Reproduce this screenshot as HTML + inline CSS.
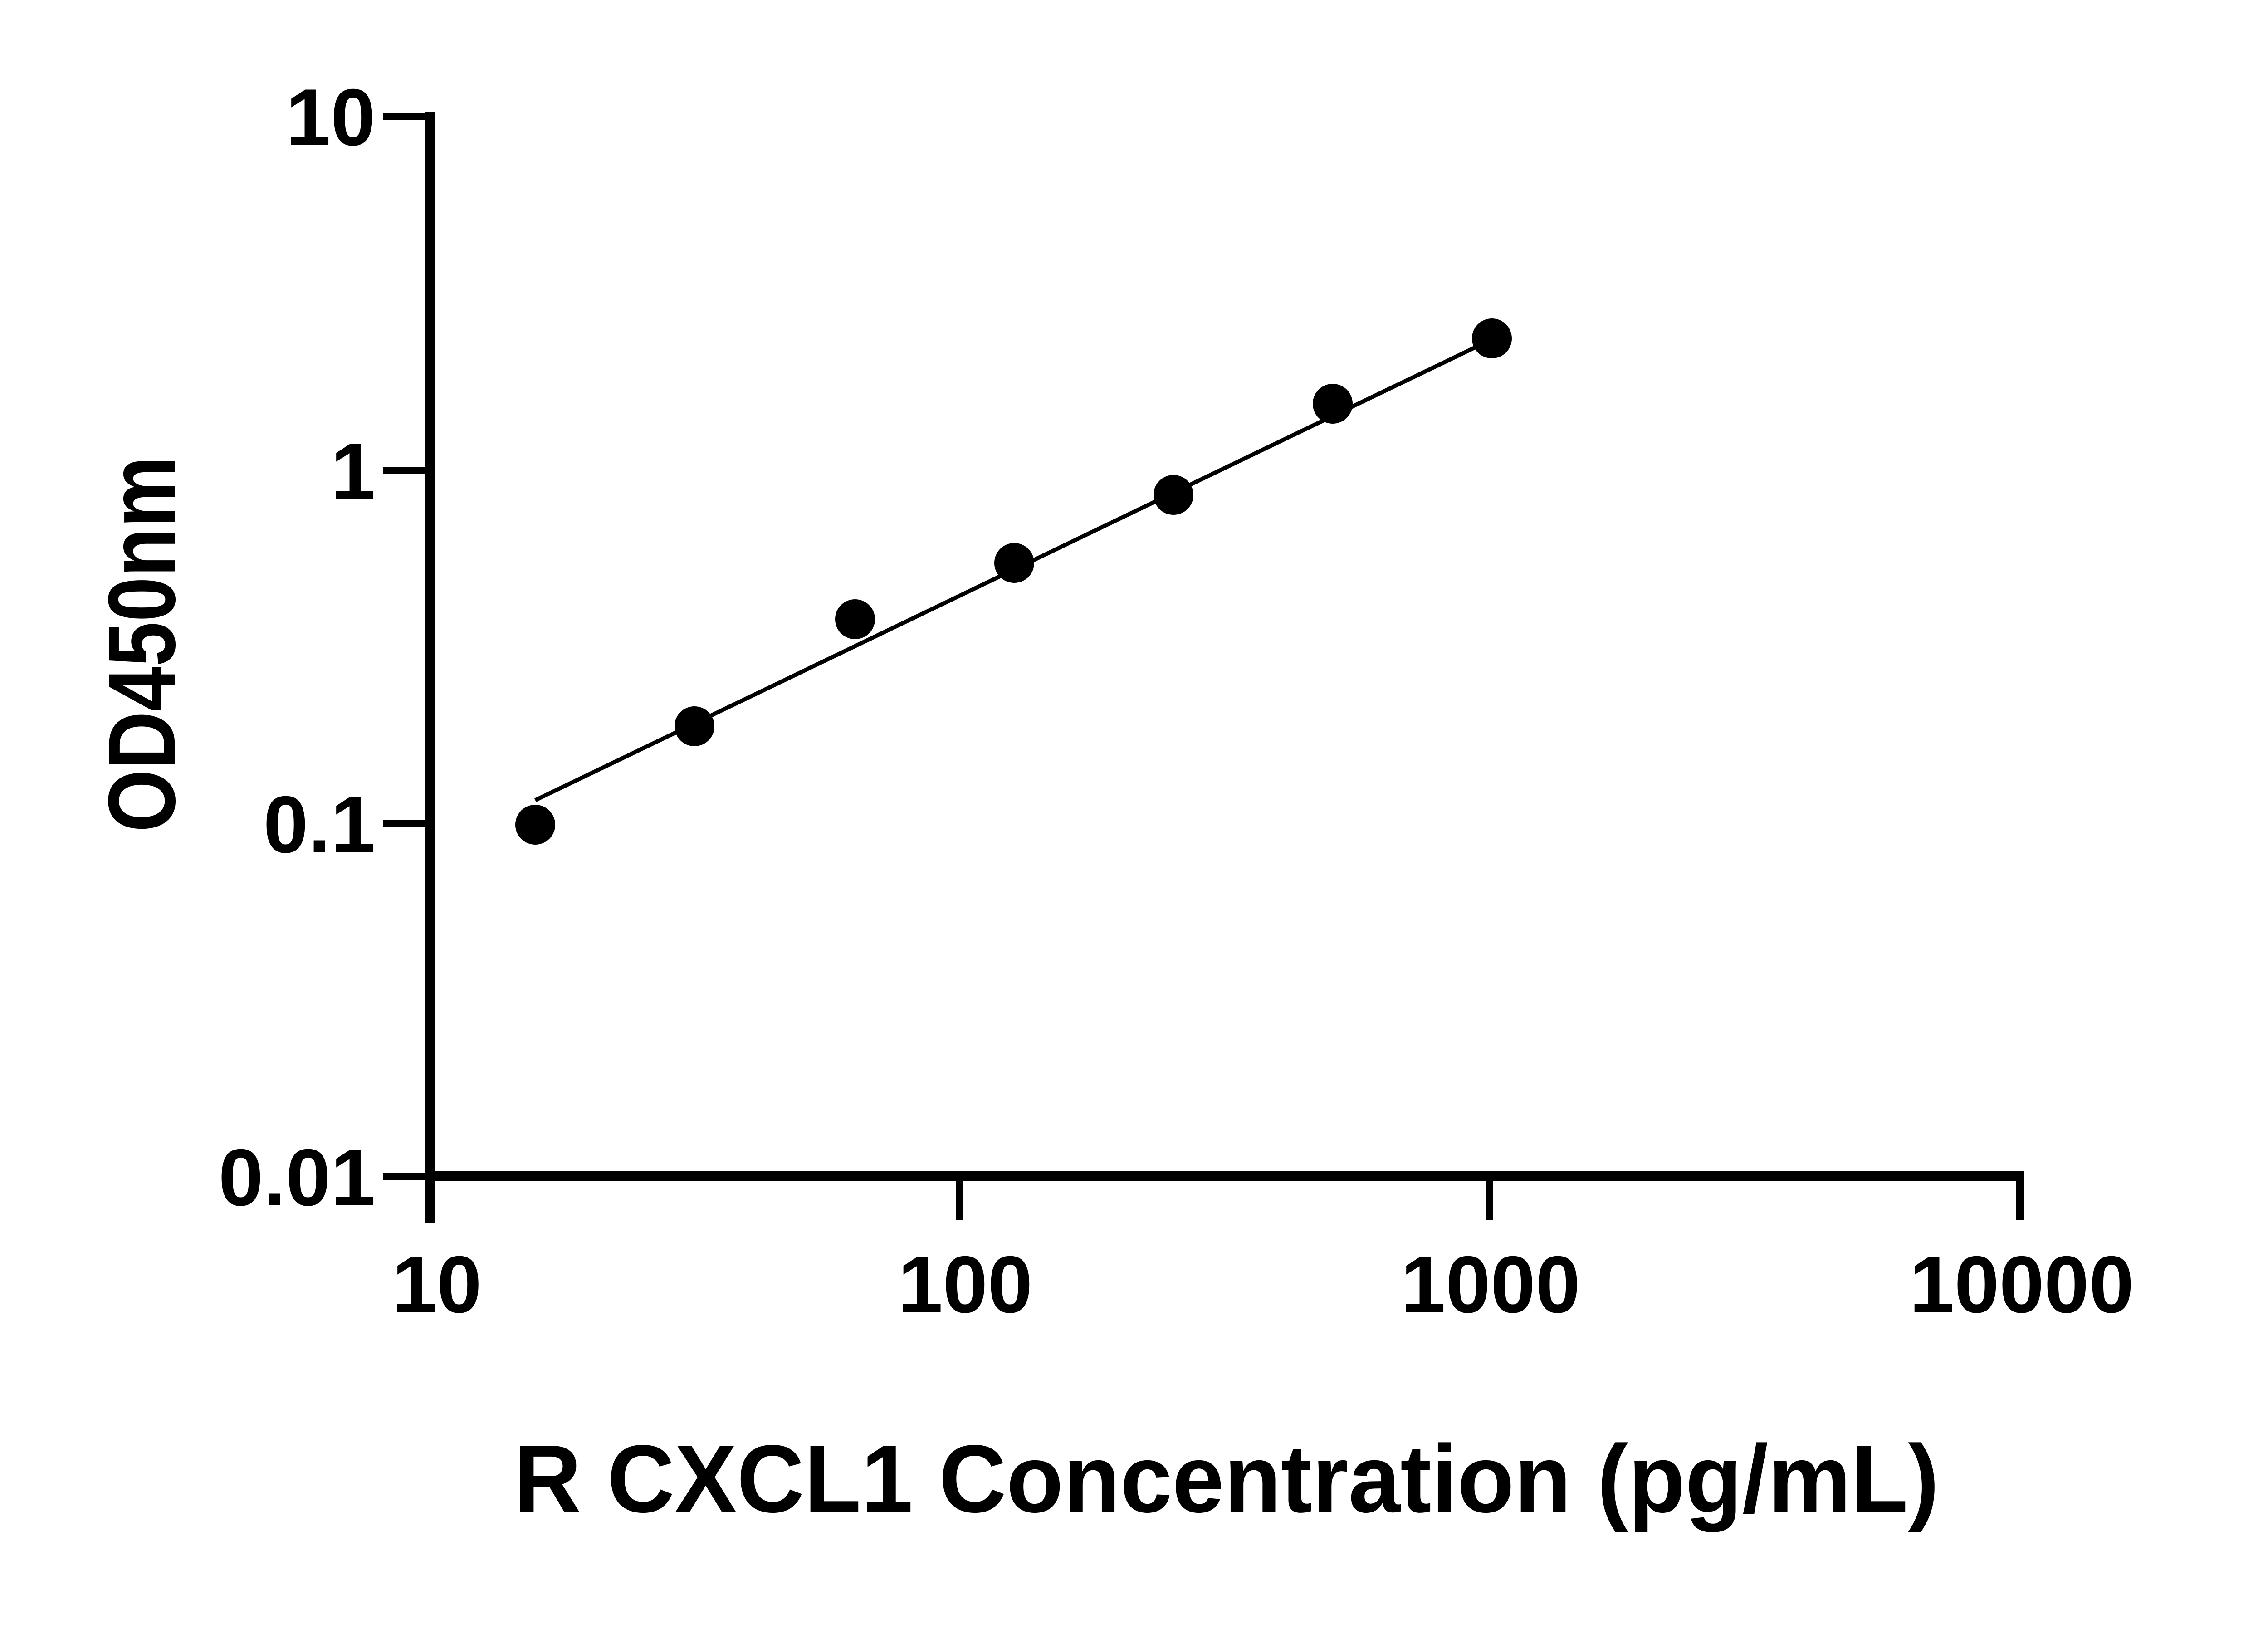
<!DOCTYPE html>
<html><head><meta charset="utf-8"><style>html,body{margin:0;padding:0;background:#fff}svg{display:block}</style></head>
<body>
<svg width="5138" height="3591" viewBox="0 0 5138 3591" xmlns="http://www.w3.org/2000/svg">
<rect width="5138" height="3591" fill="#fff"/>
<g stroke="#000" fill="none">
<line x1="947" y1="246" x2="947" y2="2696" stroke-width="22"/>
<line x1="936" y1="2593" x2="4462" y2="2593" stroke-width="22"/>
<g stroke-width="16">
<line x1="845" y1="256" x2="947" y2="256"/>
<line x1="845" y1="1037" x2="947" y2="1037"/>
<line x1="845" y1="1815" x2="947" y2="1815"/>
<line x1="845" y1="2593" x2="947" y2="2593"/>
<line x1="2115" y1="2593" x2="2115" y2="2690"/>
<line x1="3283" y1="2593" x2="3283" y2="2690"/>
<line x1="4453" y1="2593" x2="4453" y2="2690"/>
</g>
<line x1="1180" y1="1764" x2="3260" y2="762" stroke-width="9"/>
</g>
<g fill="#000">
<circle cx="1180" cy="1818" r="44"/>
<circle cx="1531" cy="1601" r="44"/>
<circle cx="1885" cy="1365" r="44"/>
<circle cx="2236" cy="1241" r="44"/>
<circle cx="2587" cy="1091" r="44"/>
<circle cx="2938" cy="890" r="44"/>
<circle cx="3289" cy="746" r="44"/>
</g>
<g font-family="Liberation Sans, Arial, sans-serif" font-weight="bold" font-size="178" fill="#000">
<g text-anchor="end">
<text x="828" y="320">10</text>
<text x="828" y="1101">1</text>
<text x="828" y="1879">0.1</text>
<text x="828" y="2657">0.01</text>
</g>
<g text-anchor="middle">
<text x="963" y="2893">10</text>
<text x="2128" y="2893">100</text>
<text x="3286" y="2893">1000</text>
<text x="4457" y="2893">10000</text>
</g>
</g>
<text x="2704" y="3333" text-anchor="middle" font-family="Liberation Sans, Arial, sans-serif" font-weight="bold" font-size="212" textLength="3142" lengthAdjust="spacingAndGlyphs">R CXCL1 Concentration (pg/mL)</text>
<text transform="translate(385,1420) rotate(-90)" text-anchor="middle" font-family="Liberation Sans, Arial, sans-serif" font-weight="bold" font-size="210" textLength="829" lengthAdjust="spacingAndGlyphs">OD450nm</text>
</svg>
</body></html>
